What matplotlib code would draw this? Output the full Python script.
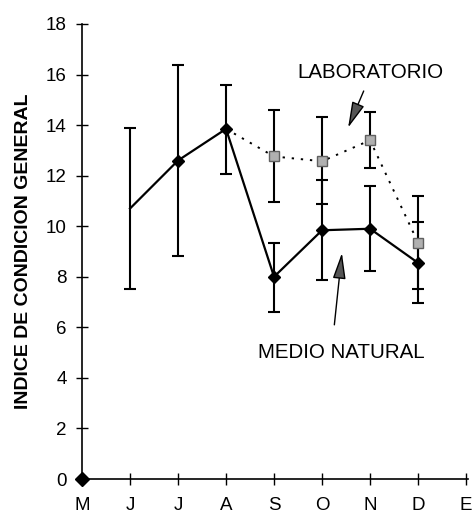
import matplotlib
matplotlib.use("Agg")
import matplotlib.pyplot as plt
import numpy as np

plt.rcParams["font.family"] = ["Liberation Sans", "DejaVu Sans"]

meses = ["M", "J", "J", "A", "S", "O", "N", "D", "E"]

# medio natural (M..D); M = 0 marcado solo con rombo
nat_x = [0, 1, 2, 3, 4, 5, 6, 7]
nat_y = [0, 10.7, 12.6, 13.85, 8.0, 9.84, 9.9, 8.55]
nat_lo = [np.nan, 7.53, 8.84, 12.07, 6.6, 7.86, 8.22, 6.95]
nat_hi = [np.nan, 13.88, 16.37, 15.6, 9.35, 11.82, 11.6, 10.17]

# laboratorio (desde A)
lab_x = [3, 4, 5, 6, 7]
lab_y = [13.85, 12.76, 12.57, 13.4, 9.35]
lab_lo = [np.nan, 10.96, 10.88, 12.3, 7.52]
lab_hi = [np.nan, 14.58, 14.32, 14.5, 11.18]

fig = plt.figure(figsize=(4.73, 5.15), dpi=100)
ax = fig.add_axes([82 / 473, 36 / 515, 386 / 473, 455 / 515])

# barras de error
for x, lo, hi in zip(nat_x + lab_x, nat_lo + lab_lo, nat_hi + lab_hi):
    if not np.isnan(lo):
        ax.errorbar(x, (lo + hi) / 2, yerr=(hi - lo) / 2, fmt="none",
                    ecolor="black", elinewidth=1.5, capsize=4, capthick=1.5)

ax.plot(lab_x, lab_y, color="black", lw=1.4, ls=(0, (1.2, 3.5)))
ax.plot(lab_x[1:], lab_y[1:], ls="none", marker="s", ms=7,
        mfc="#b0b0b0", mec="#606060", mew=1, zorder=4)

ax.plot(nat_x[1:], nat_y[1:], color="black", lw=1.6)
ax.plot(nat_x[2:], nat_y[2:], ls="none", marker="D", ms=6, color="black")
ax.plot(nat_x[0], nat_y[0], ls="none", marker="D", ms=7, color="black",
        clip_on=False, zorder=5)

ax.set_xlim(0, 8.04)
ax.set_ylim(0, 18)
ax.set_xticks(range(9))
ax.set_xticklabels(meses)
ax.set_yticks(range(0, 19, 2))
for s in ("top", "right"):
    ax.spines[s].set_visible(False)
for s in ("left", "bottom"):
    ax.spines[s].set_linewidth(1.2)
ax.tick_params(direction="inout", length=8, width=1, labelsize=13.5)
ax.tick_params(axis="x", pad=9)
ax.tick_params(axis="y", pad=7)

ax.set_ylabel("INDICE DE CONDICION GENERAL", fontsize=14,
              fontweight="bold", labelpad=10)

flecha = dict(arrowstyle="-|>,head_length=1.6,head_width=0.4",
              color="black", fc="#555555", lw=1)
ax.text(6.0, 16.1, "LABORATORIO", fontsize=14.8, ha="center", va="center")
ax.annotate("", xy=(5.52, 13.8), xytext=(5.89, 15.45), arrowprops=flecha)
ax.text(5.4, 5.0, "MEDIO NATURAL", fontsize=14.8, ha="center", va="center")
ax.annotate("", xy=(5.42, 9.05), xytext=(5.25, 5.99), arrowprops=flecha)

fig.savefig("out.png", dpi=100)
